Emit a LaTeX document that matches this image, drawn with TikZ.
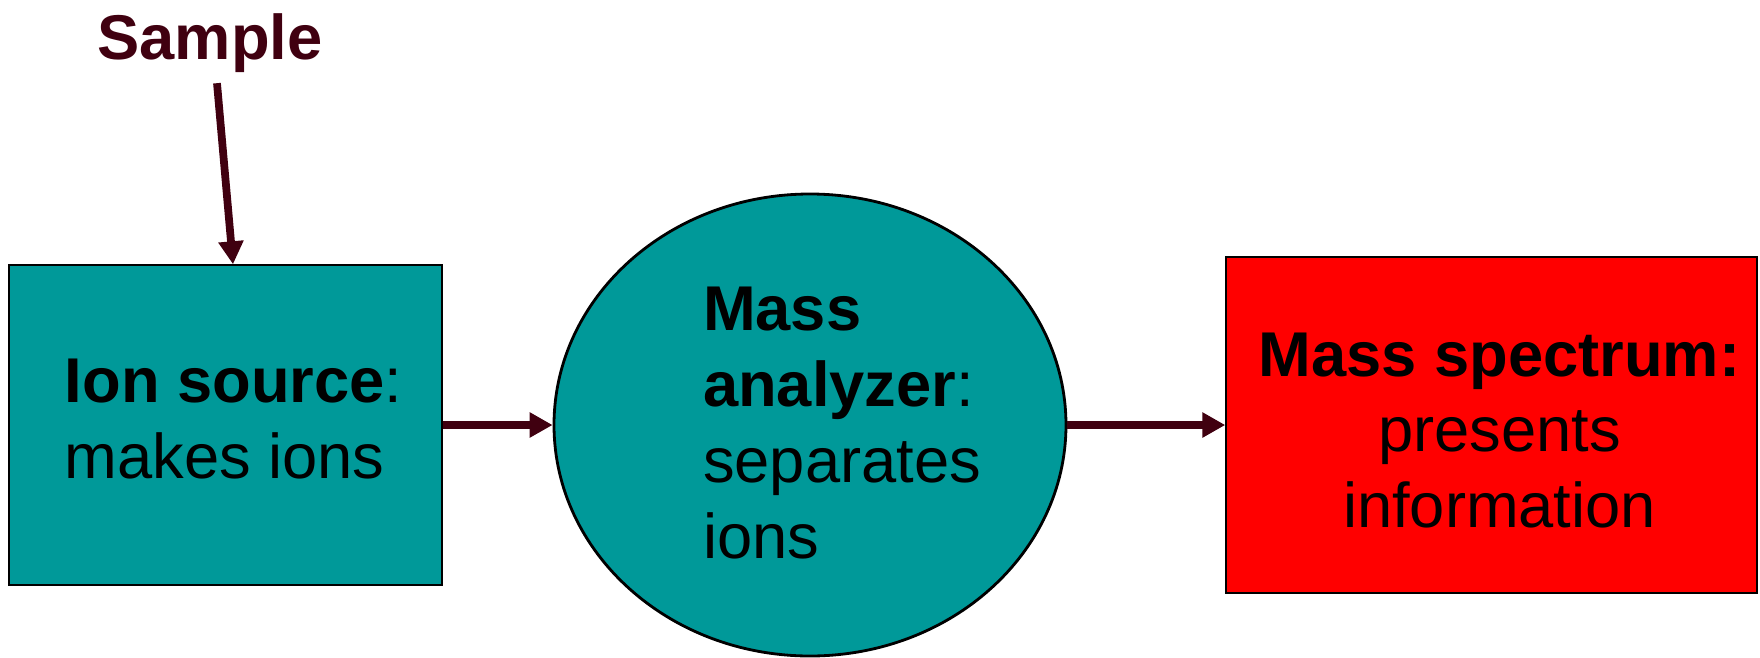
\documentclass[tikz,border=0pt]{standalone}
\usepackage{fontspec}
\setmainfont{Liberation Sans}
\usetikzlibrary{shapes.geometric,arrows.meta}
\definecolor{teal}{HTML}{009999}
\definecolor{maroon}{HTML}{400010}
\tikzset{
  unit/.style={draw=black, line width=0.4pt, fill=teal, inner sep=0pt},
  flow/.style={draw=maroon, line width=2.2pt, -{Triangle[length=0.23cm,width=0.24cm]}},
  big/.style={font=\fontsize{18}{21.6}\selectfont}
}
\begin{document}
\begin{tikzpicture}
\useasboundingbox (0,0) rectangle (17.6,6.57);
% the three stages
\node[unit, minimum width=4.33cm, minimum height=3.2cm] (src) at (2.255,2.32) {};
\node[big, align=left] (srctext) at ([xshift=0.08cm,yshift=0.06cm]src.center)
  {\textbf{Ion source}:\\makes ions};
\node[unit, ellipse, line width=0.8pt, minimum width=5.12cm, minimum height=4.62cm] (ana) at (8.10,2.32) {};
\node[big, align=left] (anatext) at ([xshift=0.32cm,yshift=0.02cm]ana.center)
  {\textbf{Mass}\\\textbf{analyzer}:\\separates\\ions};
\node[unit, fill=red, minimum width=5.31cm, minimum height=3.36cm] (spec) at (14.915,2.32) {};
\node[big, align=center] (spectext) at ([xshift=0.08cm,yshift=-0.055cm]spec.center)
  {\textbf{Mass spectrum:}\\presents\\information};
% sample inlet
\node[text=maroon, font=\fontsize{18}{21.6}\selectfont\bfseries, inner sep=0.1cm] (smp) at (2.10,6.14) {Sample};
\draw[flow] ([xshift=0.07cm]smp.south) -- ([xshift=0.075cm]src.north);
\draw[flow] (src) -- (ana);
\draw[flow] (ana) -- (spec);
\end{tikzpicture}
\end{document}
